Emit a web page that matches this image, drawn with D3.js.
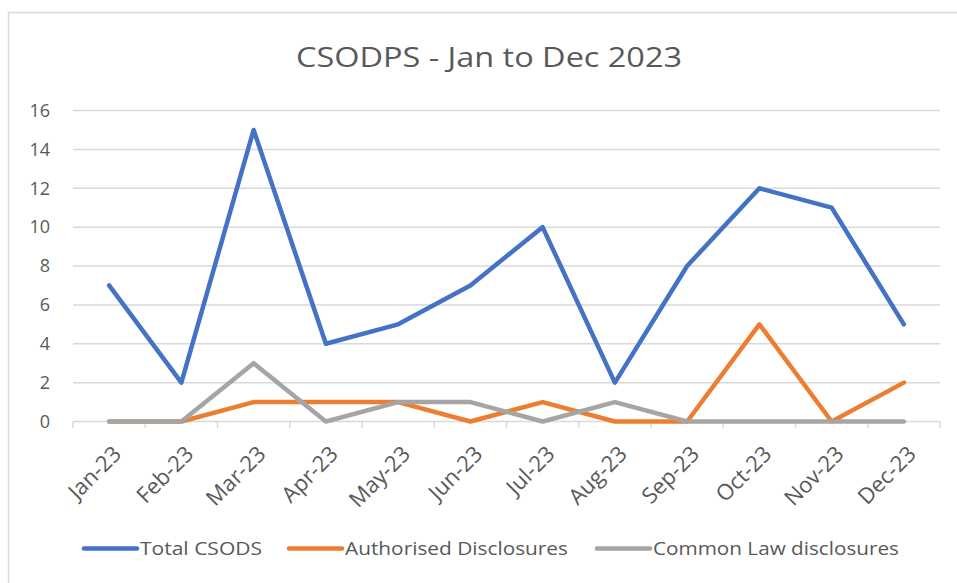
<!DOCTYPE html>
<html><head><meta charset="utf-8">
<script src="https://cdn.jsdelivr.net/npm/d3@7"></script>
<style>body{margin:0;background:#fff;} text{font-family:"Open Sans",sans-serif;fill:#595959;}</style>
</head><body><svg id="c" width="957" height="583"></svg>
<script>
const months = ["Jan-23","Feb-23","Mar-23","Apr-23","May-23","Jun-23","Jul-23","Aug-23","Sep-23","Oct-23","Nov-23","Dec-23"];
const totalCSODS = [7,2,15,4,5,7,10,2,8,12,11,5];
const authorised = [0,0,1,1,1,0,1,0,0,5,0,2];
const commonLaw = [0,0,3,0,1,1,0,1,0,0,0,0];
const yTicks = [0,2,4,6,8,10,12,14,16];
const seriesNames = ["Total CSODS","Authorised Disclosures","Common Law disclosures"];
const colors = ["#4472C4","#ED7D31","#A5A5A5"];
const series = [totalCSODS, authorised, commonLaw];

const svg = d3.select("#c");
svg.append("rect").attr("x",8.5).attr("y",12.5).attr("width",960).attr("height",600)
  .attr("fill","#fff").attr("stroke","#D9D9D9").attr("stroke-width",1.5);

svg.append("text").attr("x",489).attr("y",67).attr("text-anchor","middle")
  .attr("font-size",28).attr("textLength",386).attr("lengthAdjust","spacingAndGlyphs")
  .text("CSODPS - Jan to Dec 2023");

const x = d3.scaleBand().domain(months).range([73,940]);
const y = d3.scaleLinear().domain([0,16]).range([421.5,110.5]);

svg.selectAll("line.grid").data(yTicks).join("line")
  .attr("x1",73).attr("x2",940).attr("y1",d=>y(d)).attr("y2",d=>y(d))
  .attr("stroke","#D9D9D9").attr("stroke-width",1.5);

svg.selectAll("text.yl").data(yTicks).join("text")
  .attr("x",50).attr("y",d=>y(d)).attr("dy","0.35em").attr("text-anchor","end").attr("font-size",18)
  .text(d=>d);

const bounds = months.map(m=>x(m)).concat([940]);
svg.selectAll("line.xt").data(bounds).join("line")
  .attr("x1",d=>d).attr("x2",d=>d).attr("y1",421.5).attr("y2",428)
  .attr("stroke","#D9D9D9").attr("stroke-width",1.5);

svg.selectAll("text.xl").data(months).join("text")
  .attr("transform",d=>`translate(${x(d)+x.bandwidth()/2+8},${450}) rotate(-45)`)
  .attr("text-anchor","end").attr("dy","0.35em").attr("font-size",22).text(d=>d);

const line = d3.line().x((d,i)=>x(months[i])+x.bandwidth()/2).y(d=>y(d));
series.forEach((s,k)=>{
  svg.append("path").datum(s).attr("d",line).attr("fill","none")
    .attr("stroke",colors[k]).attr("stroke-width",4.5).attr("stroke-linecap","round")
    .attr("stroke-linejoin","round");
});

const legX = [84,289,597];
const legW = [122,223,246];
seriesNames.forEach((n,k)=>{
  svg.append("line").attr("x1",legX[k]).attr("x2",legX[k]+53).attr("y1",548.5).attr("y2",548.5)
    .attr("stroke",colors[k]).attr("stroke-width",4.5).attr("stroke-linecap","round");
  svg.append("text").attr("x",legX[k]+56).attr("y",555).attr("font-size",18)
    .attr("textLength",legW[k]).attr("lengthAdjust","spacingAndGlyphs").text(n);
});
</script></body></html>
